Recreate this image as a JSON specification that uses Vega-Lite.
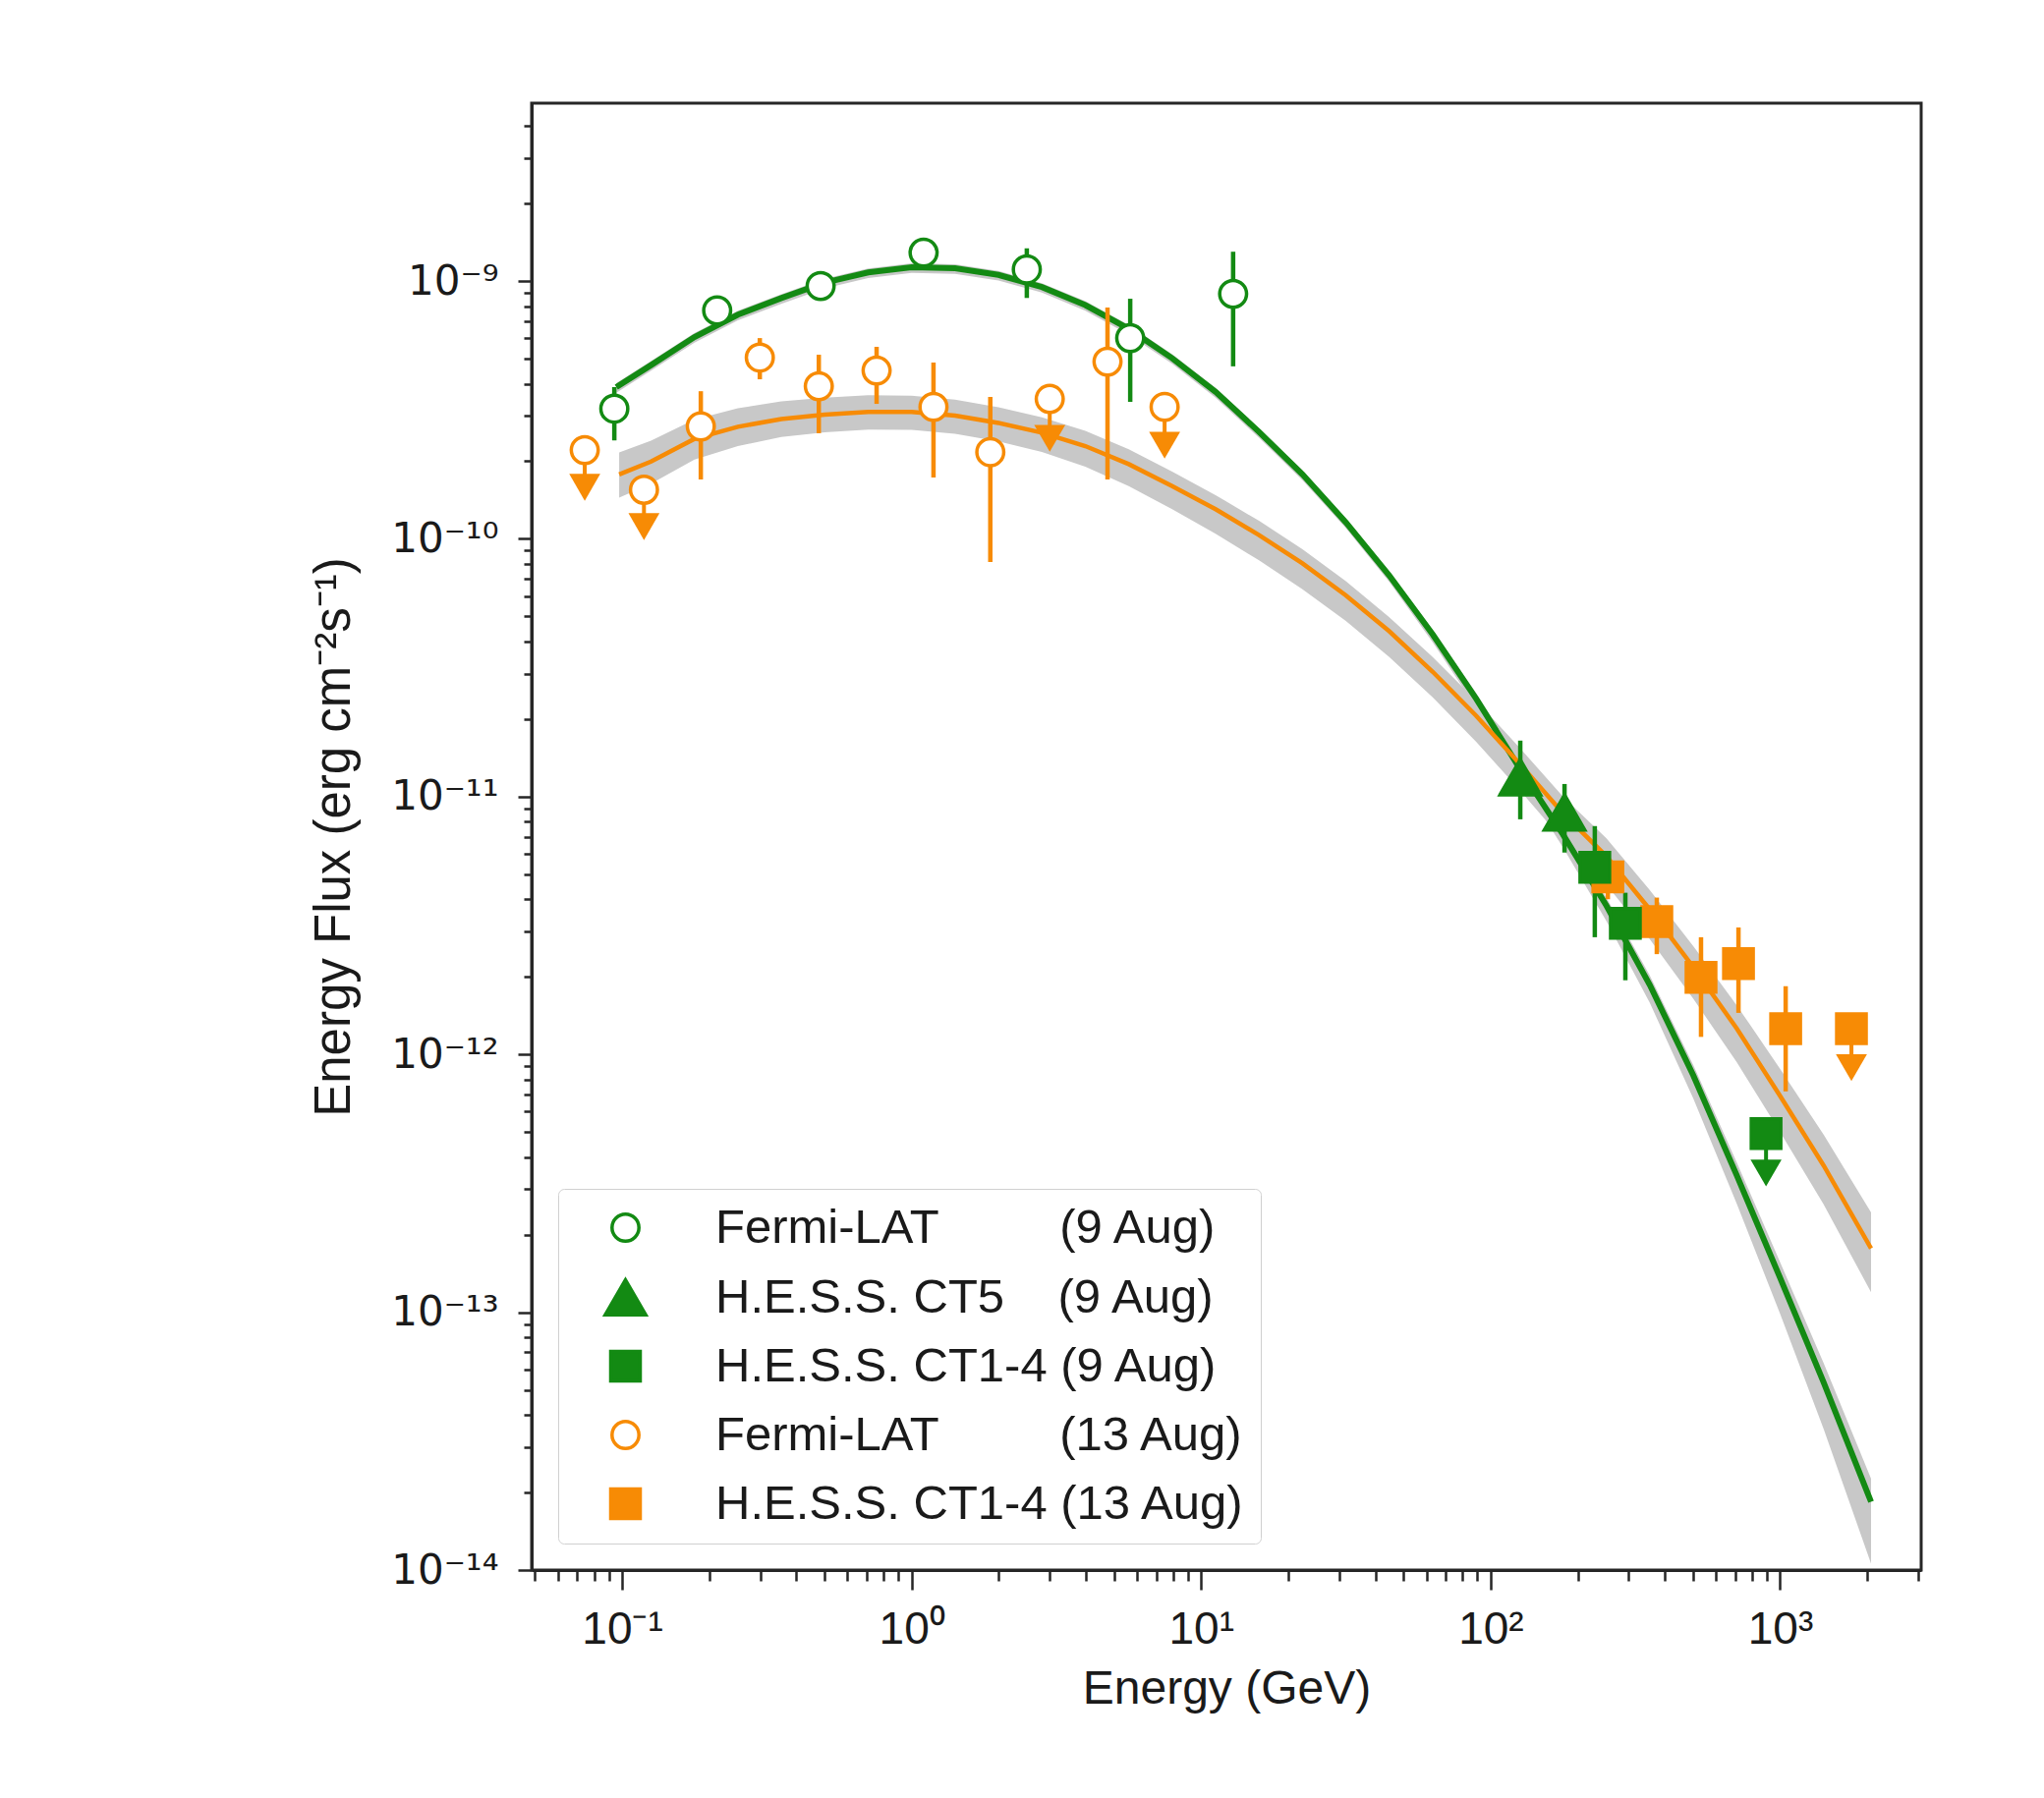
{
  "$schema": "https://vega.github.io/schema/vega-lite/v6.json",
  "width": 1414,
  "height": 1493,
  "autosize": {"type": "none"},
  "padding": {"left": 541, "top": 105, "right": 125, "bottom": 232},
  "background": "white",
  "datasets": {
    "curves": [
      {"day": "9 Aug", "E": 0.0955, "F": 3.88e-10, "lo": 3.69e-10, "hi": 4.02e-10},
      {"day": "9 Aug", "E": 0.1259, "F": 4.72e-10, "lo": 4.49e-10, "hi": 4.89e-10},
      {"day": "9 Aug", "E": 0.1778, "F": 6.07e-10, "lo": 5.77e-10, "hi": 6.28e-10},
      {"day": "9 Aug", "E": 0.2512, "F": 7.41e-10, "lo": 7.05e-10, "hi": 7.67e-10},
      {"day": "9 Aug", "E": 0.3548, "F": 8.59e-10, "lo": 8.17e-10, "hi": 8.89e-10},
      {"day": "9 Aug", "E": 0.5012, "F": 9.86e-10, "lo": 9.38e-10, "hi": 1.021e-9},
      {"day": "9 Aug", "E": 0.7079, "F": 1.081e-9, "lo": 1.028e-9, "hi": 1.119e-9},
      {"day": "9 Aug", "E": 1.0, "F": 1.132e-9, "lo": 1.076e-9, "hi": 1.172e-9},
      {"day": "9 Aug", "E": 1.413, "F": 1.122e-9, "lo": 1.067e-9, "hi": 1.161e-9},
      {"day": "9 Aug", "E": 1.995, "F": 1.057e-9, "lo": 1.005e-9, "hi": 1.094e-9},
      {"day": "9 Aug", "E": 2.818, "F": 9.48e-10, "lo": 9.02e-10, "hi": 9.82e-10},
      {"day": "9 Aug", "E": 3.981, "F": 8.07e-10, "lo": 7.67e-10, "hi": 8.36e-10},
      {"day": "9 Aug", "E": 5.623, "F": 6.53e-10, "lo": 6.21e-10, "hi": 6.76e-10},
      {"day": "9 Aug", "E": 7.943, "F": 5.02e-10, "lo": 4.78e-10, "hi": 5.20e-10},
      {"day": "9 Aug", "E": 11.22, "F": 3.72e-10, "lo": 3.53e-10, "hi": 3.85e-10},
      {"day": "9 Aug", "E": 15.85, "F": 2.60e-10, "lo": 2.47e-10, "hi": 2.69e-10},
      {"day": "9 Aug", "E": 22.39, "F": 1.78e-10, "lo": 1.69e-10, "hi": 1.85e-10},
      {"day": "9 Aug", "E": 31.62, "F": 1.159e-10, "lo": 1.102e-10, "hi": 1.199e-10},
      {"day": "9 Aug", "E": 44.67, "F": 7.21e-11, "lo": 6.81e-11, "hi": 7.46e-11},
      {"day": "9 Aug", "E": 63.10, "F": 4.26e-11, "lo": 3.97e-11, "hi": 4.44e-11},
      {"day": "9 Aug", "E": 89.13, "F": 2.40e-11, "lo": 2.22e-11, "hi": 2.52e-11},
      {"day": "9 Aug", "E": 125.9, "F": 1.29e-11, "lo": 1.178e-11, "hi": 1.358e-11},
      {"day": "9 Aug", "E": 177.8, "F": 7.13e-12, "lo": 6.35e-12, "hi": 7.55e-12},
      {"day": "9 Aug", "E": 251.2, "F": 3.78e-12, "lo": 3.29e-12, "hi": 4.05e-12},
      {"day": "9 Aug", "E": 354.8, "F": 1.86e-12, "lo": 1.585e-12, "hi": 2.02e-12},
      {"day": "9 Aug", "E": 501.2, "F": 8.30e-13, "lo": 6.75e-13, "hi": 9.10e-13},
      {"day": "9 Aug", "E": 707.9, "F": 3.40e-13, "lo": 2.64e-13, "hi": 3.82e-13},
      {"day": "9 Aug", "E": 1000, "F": 1.36e-13, "lo": 9.86e-14, "hi": 1.563e-13},
      {"day": "9 Aug", "E": 1413, "F": 5.35e-14, "lo": 3.53e-14, "hi": 6.35e-14},
      {"day": "9 Aug", "E": 2061, "F": 1.84e-14, "lo": 1.059e-14, "hi": 2.26e-14},
      {"day": "13 Aug", "E": 0.0977, "F": 1.778e-10, "lo": 1.445e-10, "hi": 2.163e-10},
      {"day": "13 Aug", "E": 0.1259, "F": 1.995e-10, "lo": 1.637e-10, "hi": 2.404e-10},
      {"day": "13 Aug", "E": 0.1778, "F": 2.443e-10, "lo": 2.032e-10, "hi": 2.904e-10},
      {"day": "13 Aug", "E": 0.2512, "F": 2.723e-10, "lo": 2.291e-10, "hi": 3.214e-10},
      {"day": "13 Aug", "E": 0.3548, "F": 2.917e-10, "lo": 2.483e-10, "hi": 3.412e-10},
      {"day": "13 Aug", "E": 0.5012, "F": 3.034e-10, "lo": 2.588e-10, "hi": 3.532e-10},
      {"day": "13 Aug", "E": 0.7079, "F": 3.105e-10, "lo": 2.655e-10, "hi": 3.606e-10},
      {"day": "13 Aug", "E": 1.0, "F": 3.105e-10, "lo": 2.649e-10, "hi": 3.589e-10},
      {"day": "13 Aug", "E": 1.413, "F": 3.006e-10, "lo": 2.559e-10, "hi": 3.467e-10},
      {"day": "13 Aug", "E": 1.995, "F": 2.818e-10, "lo": 2.388e-10, "hi": 3.243e-10},
      {"day": "13 Aug", "E": 2.818, "F": 2.582e-10, "lo": 2.173e-10, "hi": 2.965e-10},
      {"day": "13 Aug", "E": 3.981, "F": 2.291e-10, "lo": 1.905e-10, "hi": 2.624e-10},
      {"day": "13 Aug", "E": 5.623, "F": 1.950e-10, "lo": 1.603e-10, "hi": 2.228e-10},
      {"day": "13 Aug", "E": 7.943, "F": 1.603e-10, "lo": 1.303e-10, "hi": 1.824e-10},
      {"day": "13 Aug", "E": 11.22, "F": 1.303e-10, "lo": 1.047e-10, "hi": 1.479e-10},
      {"day": "13 Aug", "E": 15.85, "F": 1.035e-10, "lo": 8.26e-11, "hi": 1.175e-10},
      {"day": "13 Aug", "E": 22.39, "F": 8.04e-11, "lo": 6.38e-11, "hi": 9.12e-11},
      {"day": "13 Aug", "E": 31.62, "F": 6.04e-11, "lo": 4.80e-11, "hi": 6.85e-11},
      {"day": "13 Aug", "E": 44.67, "F": 4.38e-11, "lo": 3.48e-11, "hi": 4.97e-11},
      {"day": "13 Aug", "E": 63.10, "F": 3.05e-11, "lo": 2.43e-11, "hi": 3.48e-11},
      {"day": "13 Aug", "E": 89.13, "F": 2.06e-11, "lo": 1.633e-11, "hi": 2.36e-11},
      {"day": "13 Aug", "E": 125.9, "F": 1.343e-11, "lo": 1.062e-11, "hi": 1.549e-11},
      {"day": "13 Aug", "E": 177.8, "F": 8.63e-12, "lo": 6.78e-12, "hi": 1.002e-11},
      {"day": "13 Aug", "E": 251.2, "F": 5.87e-12, "lo": 4.56e-12, "hi": 6.90e-12},
      {"day": "13 Aug", "E": 354.8, "F": 3.65e-12, "lo": 2.80e-12, "hi": 4.34e-12},
      {"day": "13 Aug", "E": 501.2, "F": 2.18e-12, "lo": 1.644e-12, "hi": 2.63e-12},
      {"day": "13 Aug", "E": 707.9, "F": 1.262e-12, "lo": 9.35e-13, "hi": 1.552e-12},
      {"day": "13 Aug", "E": 1000, "F": 6.90e-13, "lo": 5.00e-13, "hi": 8.79e-13},
      {"day": "13 Aug", "E": 1413, "F": 3.71e-13, "lo": 2.62e-13, "hi": 4.89e-13},
      {"day": "13 Aug", "E": 2061, "F": 1.77e-13, "lo": 1.197e-13, "hi": 2.44e-13}
    ],
    "points": [
      {"series": "Fermi-LAT (13 Aug)", "day": "13 Aug", "E": 0.0743, "F": 2.21e-10, "arrow": 1.585e-10},
      {"series": "Fermi-LAT (13 Aug)", "day": "13 Aug", "E": 0.119, "F": 1.55e-10, "arrow": 1.116e-10},
      {"series": "Fermi-LAT (13 Aug)", "day": "13 Aug", "E": 0.187, "F": 2.73e-10, "lo": 1.70e-10, "hi": 3.74e-10},
      {"series": "Fermi-LAT (13 Aug)", "day": "13 Aug", "E": 0.299, "F": 5.05e-10, "lo": 4.16e-10, "hi": 6.01e-10},
      {"series": "Fermi-LAT (13 Aug)", "day": "13 Aug", "E": 0.478, "F": 3.91e-10, "lo": 2.57e-10, "hi": 5.18e-10},
      {"series": "Fermi-LAT (13 Aug)", "day": "13 Aug", "E": 0.757, "F": 4.50e-10, "lo": 3.34e-10, "hi": 5.56e-10},
      {"series": "Fermi-LAT (13 Aug)", "day": "13 Aug", "E": 1.19, "F": 3.25e-10, "lo": 1.73e-10, "hi": 4.83e-10},
      {"series": "Fermi-LAT (13 Aug)", "day": "13 Aug", "E": 1.87, "F": 2.17e-10, "lo": 8.13e-11, "hi": 3.55e-10},
      {"series": "Fermi-LAT (13 Aug)", "day": "13 Aug", "E": 3.00, "F": 3.49e-10, "arrow": 2.455e-10},
      {"series": "Fermi-LAT (13 Aug)", "day": "13 Aug", "E": 4.75, "F": 4.87e-10, "lo": 1.70e-10, "hi": 7.89e-10},
      {"series": "Fermi-LAT (13 Aug)", "day": "13 Aug", "E": 7.48, "F": 3.25e-10, "arrow": 2.31e-10},
      {"series": "Fermi-LAT (9 Aug)", "day": "9 Aug", "E": 0.094, "F": 3.2e-10, "lo": 2.41e-10, "hi": 3.88e-10},
      {"series": "Fermi-LAT (9 Aug)", "day": "9 Aug", "E": 0.213, "F": 7.69e-10, "lo": 7.3e-10, "hi": 8.1e-10},
      {"series": "Fermi-LAT (9 Aug)", "day": "9 Aug", "E": 0.485, "F": 9.57e-10, "lo": 9.1e-10, "hi": 1.0e-9},
      {"series": "Fermi-LAT (9 Aug)", "day": "9 Aug", "E": 1.10, "F": 1.29e-9, "lo": 1.24e-9, "hi": 1.34e-9},
      {"series": "Fermi-LAT (9 Aug)", "day": "9 Aug", "E": 2.50, "F": 1.11e-9, "lo": 8.6e-10, "hi": 1.34e-9},
      {"series": "Fermi-LAT (9 Aug)", "day": "9 Aug", "E": 5.69, "F": 6.01e-10, "lo": 3.40e-10, "hi": 8.54e-10},
      {"series": "Fermi-LAT (9 Aug)", "day": "9 Aug", "E": 12.9, "F": 8.92e-10, "lo": 4.67e-10, "hi": 1.30e-9},
      {"series": "H.E.S.S. CT1-4 (13 Aug)", "day": "13 Aug", "E": 254, "F": 4.88e-12, "lo": 4.0e-12, "hi": 5.9e-12},
      {"series": "H.E.S.S. CT1-4 (13 Aug)", "day": "13 Aug", "E": 375, "F": 3.28e-12, "lo": 2.45e-12, "hi": 4.06e-12},
      {"series": "H.E.S.S. CT1-4 (13 Aug)", "day": "13 Aug", "E": 533, "F": 1.99e-12, "lo": 1.17e-12, "hi": 2.85e-12},
      {"series": "H.E.S.S. CT1-4 (13 Aug)", "day": "13 Aug", "E": 718, "F": 2.25e-12, "lo": 1.45e-12, "hi": 3.11e-12},
      {"series": "H.E.S.S. CT1-4 (13 Aug)", "day": "13 Aug", "E": 1045, "F": 1.26e-12, "lo": 7.19e-13, "hi": 1.84e-12},
      {"series": "H.E.S.S. CT1-4 (13 Aug)", "day": "13 Aug", "E": 1763, "F": 1.26e-12, "arrow": 8.89e-13},
      {"series": "H.E.S.S. CT5 (9 Aug)", "day": "9 Aug", "E": 126.6, "F": 1.19e-11, "lo": 8.17e-12, "hi": 1.65e-11},
      {"series": "H.E.S.S. CT5 (9 Aug)", "day": "9 Aug", "E": 180, "F": 8.69e-12, "lo": 6.07e-12, "hi": 1.12e-11},
      {"series": "H.E.S.S. CT1-4 (9 Aug)", "day": "9 Aug", "E": 229, "F": 5.32e-12, "lo": 2.85e-12, "hi": 7.69e-12},
      {"series": "H.E.S.S. CT1-4 (9 Aug)", "day": "9 Aug", "E": 292, "F": 3.23e-12, "lo": 1.94e-12, "hi": 4.24e-12},
      {"series": "H.E.S.S. CT1-4 (9 Aug)", "day": "9 Aug", "E": 894, "F": 4.93e-13, "arrow": 3.47e-13}
    ]
  },
  "layer": [
    {
      "data": {"name": "curves"},
      "mark": {"type": "area", "color": "#c8c8c8", "clip": true},
      "encoding": {
        "x": {
          "field": "E", "type": "quantitative", "title": "Energy (GeV)",
          "scale": {"type": "log", "domain": [0.0487, 3070], "nice": false},
          "axis": {
            "values": [0.05,0.06,0.07,0.08,0.09,0.1,0.2,0.3,0.4,0.5,0.6,0.7,0.8,0.9,1,2,3,4,5,6,7,8,9,10,20,30,40,50,60,70,80,90,100,200,300,400,500,600,700,800,900,1000,2000,3000],
            "labelExpr": "abs(log(datum.value)/LN10 - round(log(datum.value)/LN10)) < 0.001 ? '10' + (datum.value < 0.5 ? '⁻' : '') + (abs(round(log(datum.value)/LN10)) >= 10 ? '¹' : '') + substring('⁰¹²³⁴⁵⁶⁷⁸⁹', abs(round(log(datum.value)/LN10)) % 10, abs(round(log(datum.value)/LN10)) % 10 + 1) : ''",
            "tickSize": {"condition": {"test": "abs(log(datum.value)/LN10 - round(log(datum.value)/LN10)) < 0.001", "value": 20}, "value": 11},
            "labelFont": "Liberation Sans", "labelFontSize": 46, "labelBaseline": "alphabetic", "labelPadding": 54,
            "titleY": 135, "titleBaseline": "alphabetic"
          }
        },
        "y": {
          "field": "lo", "type": "quantitative", "title": "Energy Flux (erg cm⁻²s⁻¹)",
          "scale": {"type": "log", "domain": [1e-14, 4.9e-9], "nice": false},
          "axis": {
            "values": [1e-14,2e-14,3e-14,4e-14,5e-14,6e-14,7e-14,8e-14,9e-14,1e-13,2e-13,3e-13,4e-13,5e-13,6e-13,7e-13,8e-13,9e-13,1e-12,2e-12,3e-12,4e-12,5e-12,6e-12,7e-12,8e-12,9e-12,1e-11,2e-11,3e-11,4e-11,5e-11,6e-11,7e-11,8e-11,9e-11,1e-10,2e-10,3e-10,4e-10,5e-10,6e-10,7e-10,8e-10,9e-10,1e-9,2e-9,3e-9,4e-9],
            "labelExpr": "abs(log(datum.value)/LN10 - round(log(datum.value)/LN10)) < 0.001 ? '10' + (datum.value < 0.5 ? '⁻' : '') + (abs(round(log(datum.value)/LN10)) >= 10 ? '¹' : '') + substring('⁰¹²³⁴⁵⁶⁷⁸⁹', abs(round(log(datum.value)/LN10)) % 10, abs(round(log(datum.value)/LN10)) % 10 + 1) : ''",
            "tickSize": {"condition": {"test": "abs(log(datum.value)/LN10 - round(log(datum.value)/LN10)) < 0.001", "value": 14}, "value": 8},
            "labelFont": "DejaVu Sans", "labelFontSize": 42, "labelPadding": 20,
            "titleX": -186, "titleBaseline": "alphabetic", "titleFontSize": 51
          }
        },
        "y2": {"field": "hi"},
        "detail": {"field": "day"}
      }
    },
    {
      "data": {"name": "curves"},
      "mark": {"type": "line", "clip": true},
      "encoding": {
        "x": {"field": "E", "type": "quantitative", "title": "Energy (GeV)"},
        "y": {"field": "F", "type": "quantitative", "title": "Energy Flux (erg cm⁻²s⁻¹)"},
        "color": {"field": "day", "type": "nominal", "scale": {"domain": ["9 Aug", "13 Aug"], "range": ["#138a13", "#f78b05"]}, "legend": null},
        "strokeWidth": {"field": "day", "type": "nominal", "scale": {"type": "ordinal", "domain": ["9 Aug", "13 Aug"], "range": [6, 4.5]}, "legend": null}
      }
    },
    {
      "data": {"name": "points"},
      "transform": [{"filter": "isValid(datum.lo)"}],
      "mark": {"type": "rule", "strokeWidth": 4.5},
      "encoding": {
        "x": {"field": "E", "type": "quantitative", "title": "Energy (GeV)"},
        "y": {"field": "lo", "type": "quantitative", "title": "Energy Flux (erg cm⁻²s⁻¹)"},
        "y2": {"field": "hi"},
        "color": {"field": "day", "type": "nominal", "legend": null}
      }
    },
    {
      "data": {"name": "points"},
      "transform": [{"filter": "isValid(datum.arrow)"}],
      "mark": {"type": "rule", "strokeWidth": 4},
      "encoding": {
        "x": {"field": "E", "type": "quantitative", "title": "Energy (GeV)"},
        "y": {"field": "F", "type": "quantitative", "title": "Energy Flux (erg cm⁻²s⁻¹)"},
        "y2": {"field": "arrow"},
        "color": {"field": "day", "type": "nominal", "legend": null}
      }
    },
    {
      "data": {"name": "points"},
      "transform": [{"filter": "isValid(datum.arrow)"}],
      "mark": {"type": "point", "shape": "triangle-down", "filled": true, "opacity": 1, "size": 1000},
      "encoding": {
        "x": {"field": "E", "type": "quantitative", "title": "Energy (GeV)"},
        "y": {"field": "arrow", "type": "quantitative", "title": "Energy Flux (erg cm⁻²s⁻¹)"},
        "color": {"field": "day", "type": "nominal", "legend": null}
      }
    },
    {
      "data": {"name": "points"},
      "mark": {"type": "point", "filled": true, "opacity": 1, "strokeWidth": 3.5},
      "encoding": {
        "x": {"field": "E", "type": "quantitative", "title": "Energy (GeV)"},
        "y": {"field": "F", "type": "quantitative", "title": "Energy Flux (erg cm⁻²s⁻¹)"},
        "shape": {
          "field": "series", "type": "nominal",
          "scale": {"domain": ["Fermi-LAT (9 Aug)", "H.E.S.S. CT5 (9 Aug)", "H.E.S.S. CT1-4 (9 Aug)", "Fermi-LAT (13 Aug)", "H.E.S.S. CT1-4 (13 Aug)"], "range": ["circle", "triangle-up", "square", "circle", "square"]},
          "legend": {"title": null, "orient": "none", "legendX": 27, "legendY": 1105, "labelExpr": "datum.label == 'Fermi-LAT (9 Aug)' ? 'Fermi-LAT\u00a0\u00a0\u00a0\u00a0\u00a0\u00a0\u00a0\u00a0\u00a0(9 Aug)' : datum.label == 'H.E.S.S. CT5 (9 Aug)' ? 'H.E.S.S. CT5\u00a0\u00a0\u00a0\u00a0(9 Aug)' : datum.label == 'Fermi-LAT (13 Aug)' ? 'Fermi-LAT\u00a0\u00a0\u00a0\u00a0\u00a0\u00a0\u00a0\u00a0\u00a0(13 Aug)' : datum.label"}
        },
        "fill": {
          "field": "series", "type": "nominal",
          "scale": {"domain": ["Fermi-LAT (9 Aug)", "H.E.S.S. CT5 (9 Aug)", "H.E.S.S. CT1-4 (9 Aug)", "Fermi-LAT (13 Aug)", "H.E.S.S. CT1-4 (13 Aug)"], "range": ["#ffffff", "#138a13", "#138a13", "#ffffff", "#f78b05"]},
          "legend": {"title": null, "orient": "none", "legendX": 27, "legendY": 1105, "labelExpr": "datum.label == 'Fermi-LAT (9 Aug)' ? 'Fermi-LAT\u00a0\u00a0\u00a0\u00a0\u00a0\u00a0\u00a0\u00a0\u00a0(9 Aug)' : datum.label == 'H.E.S.S. CT5 (9 Aug)' ? 'H.E.S.S. CT5\u00a0\u00a0\u00a0\u00a0(9 Aug)' : datum.label == 'Fermi-LAT (13 Aug)' ? 'Fermi-LAT\u00a0\u00a0\u00a0\u00a0\u00a0\u00a0\u00a0\u00a0\u00a0(13 Aug)' : datum.label"}
        },
        "stroke": {
          "field": "series", "type": "nominal",
          "scale": {"domain": ["Fermi-LAT (9 Aug)", "H.E.S.S. CT5 (9 Aug)", "H.E.S.S. CT1-4 (9 Aug)", "Fermi-LAT (13 Aug)", "H.E.S.S. CT1-4 (13 Aug)"], "range": ["#138a13", "#138a13", "#138a13", "#f78b05", "#f78b05"]},
          "legend": {"title": null, "orient": "none", "legendX": 27, "legendY": 1105, "labelExpr": "datum.label == 'Fermi-LAT (9 Aug)' ? 'Fermi-LAT\u00a0\u00a0\u00a0\u00a0\u00a0\u00a0\u00a0\u00a0\u00a0(9 Aug)' : datum.label == 'H.E.S.S. CT5 (9 Aug)' ? 'H.E.S.S. CT5\u00a0\u00a0\u00a0\u00a0(9 Aug)' : datum.label == 'Fermi-LAT (13 Aug)' ? 'Fermi-LAT\u00a0\u00a0\u00a0\u00a0\u00a0\u00a0\u00a0\u00a0\u00a0(13 Aug)' : datum.label"}
        },
        "size": {
          "field": "series", "type": "nominal",
          "scale": {"type": "ordinal", "domain": ["Fermi-LAT (9 Aug)", "H.E.S.S. CT5 (9 Aug)", "H.E.S.S. CT1-4 (9 Aug)", "Fermi-LAT (13 Aug)", "H.E.S.S. CT1-4 (13 Aug)"], "range": [750, 1700, 900, 750, 900]},
          "legend": {"title": null, "orient": "none", "legendX": 27, "legendY": 1105, "labelExpr": "datum.label == 'Fermi-LAT (9 Aug)' ? 'Fermi-LAT\u00a0\u00a0\u00a0\u00a0\u00a0\u00a0\u00a0\u00a0\u00a0(9 Aug)' : datum.label == 'H.E.S.S. CT5 (9 Aug)' ? 'H.E.S.S. CT5\u00a0\u00a0\u00a0\u00a0(9 Aug)' : datum.label == 'Fermi-LAT (13 Aug)' ? 'Fermi-LAT\u00a0\u00a0\u00a0\u00a0\u00a0\u00a0\u00a0\u00a0\u00a0(13 Aug)' : datum.label"}
        }
      }
    }
  ],
  "config": {
    "font": "Liberation Sans",
    "view": {"stroke": "#262626", "strokeWidth": 3},
    "axis": {
      "grid": false,
      "domainColor": "#262626",
      "domainWidth": 3,
      "tickColor": "#262626",
      "tickWidth": 2.5,
      "labelColor": "#1a1a1a",
      "labelOverlap": false,
      "labelFlush": false,
      "labelBound": false,
      "titleFont": "Liberation Sans",
      "titleFontSize": 48,
      "titleFontWeight": "normal",
      "titleColor": "#1a1a1a"
    },
    "legend": {
      "labelFont": "Liberation Sans",
      "labelFontSize": 49,
      "labelColor": "#1a1a1a",
      "labelLimit": 0,
      "padding": 15,
      "rowPadding": 20,
      "strokeColor": "#d0d0d0",
      "fillColor": "#ffffff",
      "cornerRadius": 6,
      "symbolStrokeWidth": 3.5,
      "symbolOffset": 29,
      "labelOffset": 67
    }
  }
}
